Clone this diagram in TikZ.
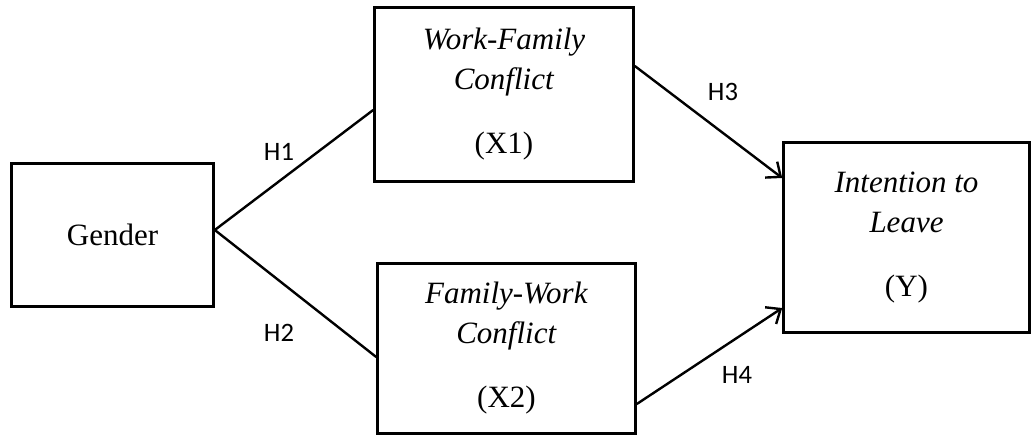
\documentclass[tikz,border=0pt]{standalone}
\usepackage{fontspec}
\setmainfont{Liberation Serif}
\newfontfamily\labelfont{Carlito}
\usetikzlibrary{arrows.meta}

\begin{document}
\begin{tikzpicture}[
    x=0.5pt, y=-0.5pt,
    box/.style={draw, line width=1.3pt, align=center, inner sep=0pt,
        font=\fontsize{15.5}{20}\selectfont},
    hyp/.style={font=\labelfont\fontsize{13.3}{16}\selectfont},
    link/.style={line width=1.2pt},
    arrow/.style={line width=1.2pt, -{Straight Barb[length=6pt, width=10pt, line width=1.2pt]}}
  ]
    \useasboundingbox (0,0) rectangle (1032,438);
    \node[box, minimum width=101pt, minimum height=71.5pt] (gender) at (112.5,235) {Gender};
    \node[box, minimum width=129.5pt, minimum height=87pt] (wfc) at (504,94.5)
        {\textit{Work-Family}\\ \textit{Conflict}\\[12pt] (X1)};
    \node[box, minimum width=129pt, minimum height=85pt] (fwc) at (506.5,348.5)
        {\textit{Family-Work}\\ \textit{Conflict}\\[12pt] (X2)};
    \node[box, minimum width=123pt, minimum height=95pt] (itl) at (906.5,237.5)
        {\textit{Intention to}\\ \textit{Leave}\\[12pt] (Y)};
    \node[hyp] (h1) at (279,152) {H1};
    \node[hyp] (h2) at (279,333) {H2};
    \node[hyp] (h3) at (723,92) {H3};
    \node[hyp] (h4) at (737,375) {H4};
    \draw[link] ([yshift=2.5pt]gender.east) -- ([yshift=-7.75pt]wfc.west);
    \draw[link] ([yshift=2.5pt]gender.east) -- ([yshift=-4.25pt]fwc.west);
    \draw[arrow] ([yshift=14.25pt]wfc.east) -- ([yshift=29.75pt]itl.west);
    \draw[arrow] ([yshift=-27.75pt]fwc.east) -- ([yshift=-35.25pt]itl.west);
\end{tikzpicture}
\end{document}
